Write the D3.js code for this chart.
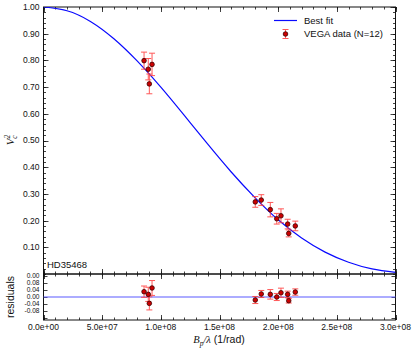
<!DOCTYPE html>
<html lang="en">
<head>
<meta charset="utf-8">
<script src="https://d3js.org/d3.v7.min.js"></script>
<style>
  body { margin: 0; background: #fff; }
  text { font-family: "Liberation Sans", Arial, sans-serif; fill: #111; }
  .math { font-family: "Liberation Serif", "DejaVu Serif", serif; font-style: italic; }
</style>
</head>
<body>
<script>
// VEGA data (baseline in 1/rad, squared visibility, error, residual)
var baseline = [0.857e8, 0.893e8, 0.902e8, 0.925e8, 1.805e8, 1.856e8, 1.933e8, 1.988e8, 2.024e8, 2.081e8, 2.090e8, 2.146e8];
var v2       = [0.799, 0.767, 0.712, 0.785, 0.270, 0.277, 0.241, 0.207, 0.218, 0.187, 0.152, 0.180];
var v2err    = [0.032, 0.040, 0.037, 0.042, 0.020, 0.020, 0.027, 0.020, 0.026, 0.018, 0.013, 0.018];
var resid    = [0.030, 0.015, -0.036, 0.051, -0.017, 0.017, 0.015, 0.000, 0.024, 0.015, -0.021, 0.028];

// best fit curve
var fitX  = [0, 0.2e8, 0.4e8, 0.6e8, 0.8e8, 1.0e8, 1.2e8, 1.4e8, 1.6e8, 1.8e8, 2.0e8, 2.2e8, 2.4e8, 2.6e8, 2.8e8, 3.0e8];
var fitV2 = [1.0, 0.986, 0.946, 0.881, 0.797, 0.700, 0.594, 0.486, 0.382, 0.287, 0.203, 0.135, 0.082, 0.044, 0.019, 0.006];

var xTicks = [0, 0.5e8, 1.0e8, 1.5e8, 2.0e8, 2.5e8, 3.0e8];
var yTicks = [0.1, 0.2, 0.3, 0.4, 0.5, 0.6, 0.7, 0.8, 0.9, 1.0];
var rTicks = [0.12, 0.08, 0.04, 0.00, -0.04, -0.08];
var rTickLabels = ["0.00", "0.08", "0.04", "0.00", "-0.04", "-0.08"];

var width = 415, height = 352;
var L = 43.5, R = 395.5, T = 7, M = 274, B = 320;

var svg = d3.select("body").append("svg")
    .attr("width", width)
    .attr("height", height);

var x = d3.scaleLinear().domain([0, 3e8]).range([L, R]);
var y = d3.scaleLinear().domain([0, 1]).range([M, T]);
var yr = d3.scaleLinear().domain([-0.13, 0.13]).range([B, M]);

function expFmt(v) {
  return v.toExponential(1).replace(/e([+-])(\d)$/, function(m, s, d) { return "e" + s + "0" + d; });
}

svg.append("defs").append("clipPath").attr("id", "clipMain")
  .append("rect").attr("x", L).attr("y", T).attr("width", R - L).attr("height", M - T);

// inward ticks helper
function ticksX(vals, yPos, len, dir) {
  svg.append("g").selectAll("line").data(vals).enter().append("line")
    .attr("x1", function(d) { return Math.round(x(d)) + 0.5; })
    .attr("x2", function(d) { return Math.round(x(d)) + 0.5; })
    .attr("y1", yPos).attr("y2", yPos + dir * len)
    .attr("stroke", "#111").attr("stroke-width", 0.8);
}
function ticksY(scale, vals, xPos, len, dir) {
  svg.append("g").selectAll("line").data(vals).enter().append("line")
    .attr("y1", function(d) { return Math.round(scale(d)) + 0.5; })
    .attr("y2", function(d) { return Math.round(scale(d)) + 0.5; })
    .attr("x1", xPos).attr("x2", xPos + dir * len)
    .attr("stroke", "#111").attr("stroke-width", 0.8);
}

var xMinor = d3.range(0, 3.0001e8, 1e7);
var yMinor = d3.range(0, 1.0001, 0.02);

// main panel ticks
ticksX(xMinor, T, 2.5, 1); ticksX(xTicks, T, 5, 1);
ticksX(xMinor, M, 2.5, -1); ticksX(xTicks, M, 5, -1);
ticksY(y, yMinor, L, 2.5, 1); ticksY(y, yTicks, L, 5, 1);
ticksY(y, yMinor, R, 2.5, -1); ticksY(y, yTicks, R, 5, -1);
// residual panel ticks
ticksX(xMinor, M, 2.5, 1); ticksX(xTicks, M, 5, 1);
ticksX(xMinor, B, 2.5, -1); ticksX(xTicks, B, 5, -1);
ticksY(yr, rTicks.concat([-0.12]), L, 4, 1);
ticksY(yr, rTicks.concat([-0.12]), R, 4, -1);

// frames
svg.append("rect").attr("x", L).attr("y", T).attr("width", R - L).attr("height", M - T)
  .attr("fill", "none").attr("stroke", "#111").attr("stroke-width", 1);
svg.append("rect").attr("x", L).attr("y", M).attr("width", R - L).attr("height", B - M)
  .attr("fill", "none").attr("stroke", "#111").attr("stroke-width", 1);

// tick labels
svg.append("g").selectAll("text").data(yTicks).enter().append("text")
  .attr("x", L - 4).attr("y", function(d) { return y(d); })
  .attr("dy", "0.35em").attr("text-anchor", "end").style("font-size", "8.5px")
  .text(function(d) { return d.toFixed(2); });
svg.append("g").selectAll("text").data(rTicks).enter().append("text")
  .attr("x", L - 4).attr("y", function(d) { return yr(d); })
  .attr("dy", "0.35em").attr("text-anchor", "end").style("font-size", "6.6px")
  .text(function(d, i) { return rTickLabels[i]; });
svg.append("g").selectAll("text").data(xTicks).enter().append("text")
  .attr("x", function(d) { return x(d); }).attr("y", B + 10)
  .attr("text-anchor", "middle").style("font-size", "8.5px")
  .text(expFmt);

// best fit
var line = d3.line().x(function(d) { return x(d[0]); }).y(function(d) { return y(d[1]); })
  .curve(d3.curveNatural);
svg.append("path").datum(d3.zip(fitX, fitV2))
  .attr("clip-path", "url(#clipMain)")
  .attr("d", line).attr("fill", "none").attr("stroke", "#0a0aff").attr("stroke-width", 1.2);

// residual zero line
svg.append("line").attr("x1", L).attr("x2", R).attr("y1", yr(0)).attr("y2", yr(0))
  .attr("stroke", "#5a5aff").attr("stroke-width", 1.2);

function errorBars(g, scale, vals) {
  var pts = d3.range(baseline.length);
  var eb = g.append("g").attr("stroke", "#ff3b3b").attr("stroke-width", 1).attr("opacity", 0.85);
  eb.selectAll(".v").data(pts).enter().append("line")
    .attr("x1", function(i) { return x(baseline[i]); }).attr("x2", function(i) { return x(baseline[i]); })
    .attr("y1", function(i) { return scale(vals[i] - v2err[i]); })
    .attr("y2", function(i) { return scale(vals[i] + v2err[i]); });
  [-1, 1].forEach(function(s) {
    eb.selectAll(".c" + s).data(pts).enter().append("line")
      .attr("x1", function(i) { return x(baseline[i]) - 3; }).attr("x2", function(i) { return x(baseline[i]) + 3; })
      .attr("y1", function(i) { return scale(vals[i] + s * v2err[i]); })
      .attr("y2", function(i) { return scale(vals[i] + s * v2err[i]); });
  });
  g.append("g").selectAll("circle").data(pts).enter().append("circle")
    .attr("cx", function(i) { return x(baseline[i]); })
    .attr("cy", function(i) { return scale(vals[i]); })
    .attr("r", 2.3).attr("fill", "#cc0000").attr("stroke", "#3a0000").attr("stroke-width", 0.8);
}
errorBars(svg.append("g"), y, v2);
errorBars(svg.append("g"), yr, resid);

// legend
svg.append("line").attr("x1", 274).attr("x2", 297).attr("y1", 20.5).attr("y2", 20.5)
  .attr("stroke", "#0a0aff").attr("stroke-width", 1.2);
svg.append("text").attr("x", 304).attr("y", 20.5).attr("dy", "0.35em").style("font-size", "9.5px").text("Best fit");
var lg = svg.append("g").attr("stroke", "#ff3b3b").attr("stroke-width", 1).attr("opacity", 0.85);
lg.append("line").attr("x1", 285.5).attr("x2", 285.5).attr("y1", 29.5).attr("y2", 38.5);
lg.append("line").attr("x1", 282.5).attr("x2", 288.5).attr("y1", 29.5).attr("y2", 29.5);
lg.append("line").attr("x1", 282.5).attr("x2", 288.5).attr("y1", 38.5).attr("y2", 38.5);
svg.append("circle").attr("cx", 285.5).attr("cy", 34).attr("r", 2.3)
  .attr("fill", "#cc0000").attr("stroke", "#3a0000").attr("stroke-width", 0.8);
svg.append("text").attr("x", 304).attr("y", 34).attr("dy", "0.35em").style("font-size", "9.5px").text("VEGA data (N=12)");

// star name
svg.append("text").attr("x", 47).attr("y", 268).style("font-size", "9.5px").text("HD35468");

// axis labels
var yl = svg.append("text").attr("transform", "translate(14,140) rotate(-90)")
  .attr("text-anchor", "middle").attr("class", "math").style("font-size", "11px");
yl.append("tspan").text("V");
yl.append("tspan").attr("dy", -4).style("font-size", "7.5px").text("2");
yl.append("tspan").attr("dx", -4).attr("dy", 7).style("font-size", "7.5px").text("c");

svg.append("text").attr("transform", "translate(14,297) rotate(-90)")
  .attr("text-anchor", "middle").style("font-size", "10.5px").text("residuals");

var xl = svg.append("text").attr("x", 219).attr("y", 343).attr("text-anchor", "middle").style("font-size", "10.5px");
xl.append("tspan").attr("class", "math").text("B");
xl.append("tspan").attr("class", "math").attr("dy", 2.5).style("font-size", "7.5px").text("p");
xl.append("tspan").attr("class", "math").attr("dy", -2.5).text("/λ");
xl.append("tspan").text(" (1/rad)");
</script>
</body>
</html>
